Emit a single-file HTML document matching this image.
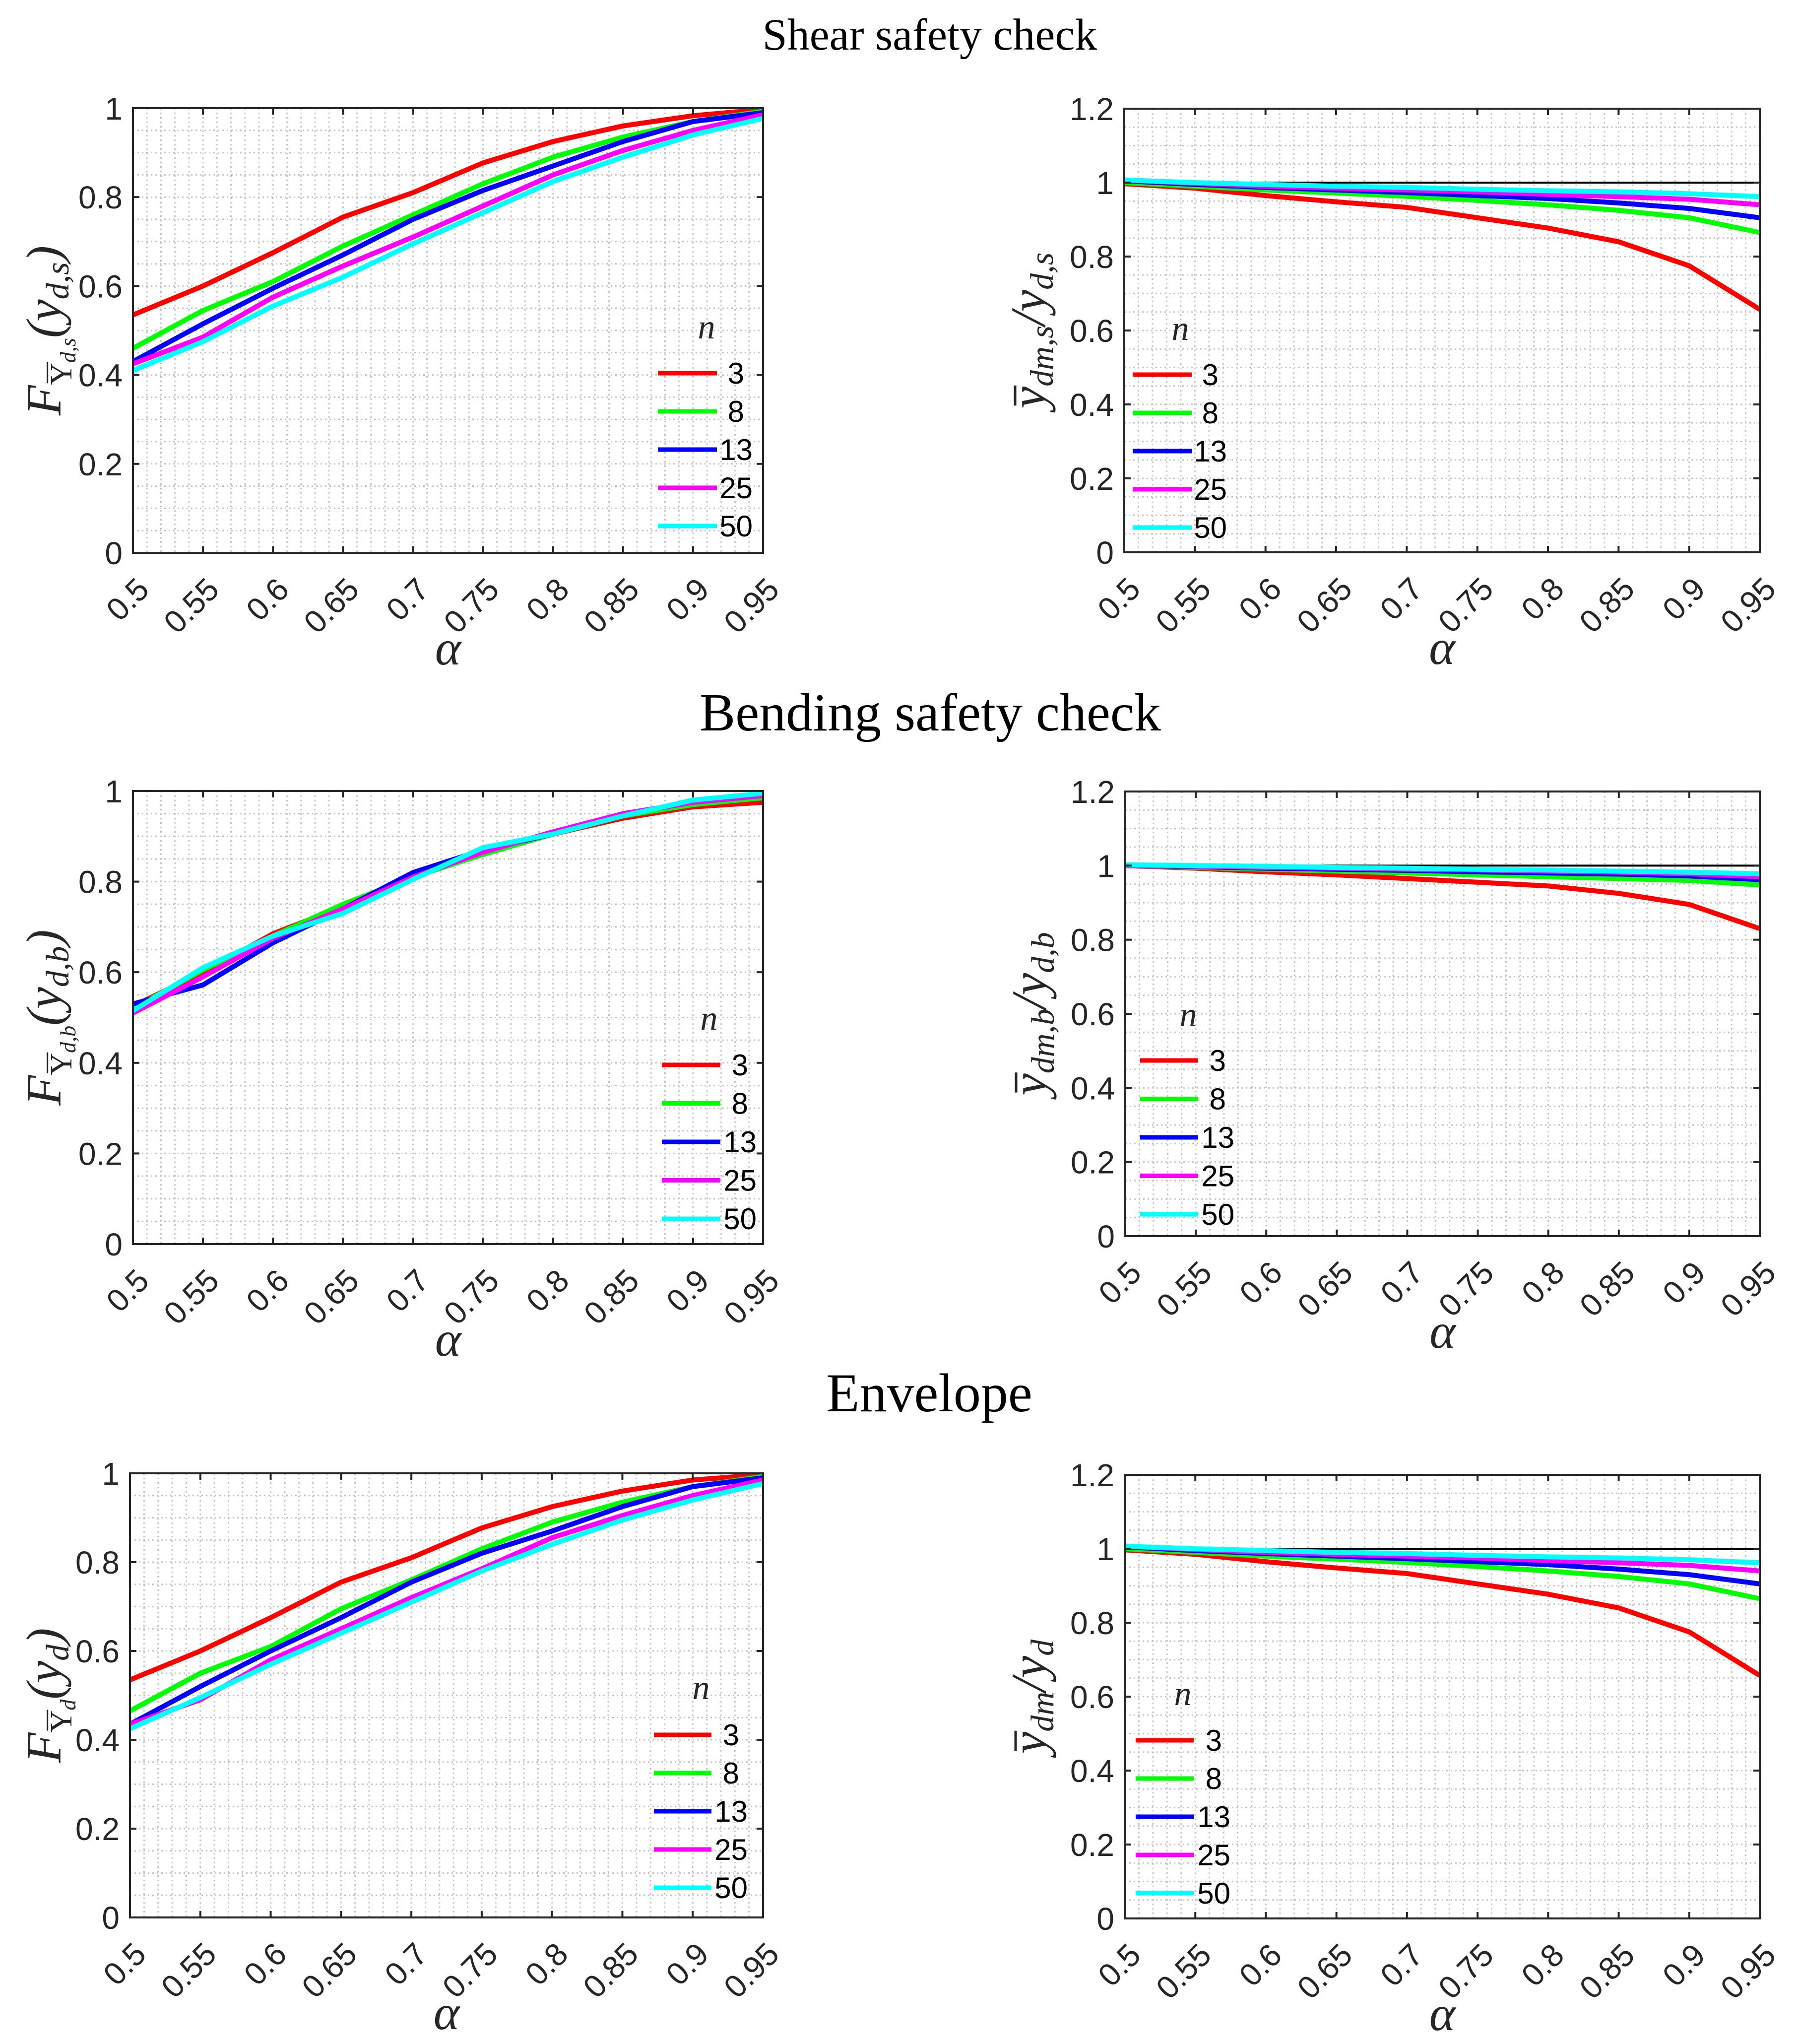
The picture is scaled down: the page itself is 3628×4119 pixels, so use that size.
<!DOCTYPE html>
<html><head><meta charset="utf-8"><style>
html,body{margin:0;padding:0;background:#fff;}
svg{display:block;}
.tk{font-family:"Liberation Sans",Arial,sans-serif;font-size:64px;fill:#262626;}
.lg{font-family:"Liberation Sans",Arial,sans-serif;font-size:60px;fill:#000;}
.mt{font-family:"Liberation Serif","DejaVu Serif",serif;font-style:italic;fill:#262626;}
.ttl{font-family:"Liberation Serif","DejaVu Serif",serif;fill:#000;}
</style></head><body>
<svg id="fig" xmlns="http://www.w3.org/2000/svg" width="3628" height="4119" viewBox="0 0 3628 4119">
<rect width="3628" height="4119" fill="#fff"/>
<text class="ttl" x="1874" y="100" font-size="90" text-anchor="middle">Shear safety check</text>
<text class="ttl" x="1875" y="1472" font-size="108" text-anchor="middle">Bending safety check</text>
<text class="ttl" x="1873" y="2844" font-size="110" text-anchor="middle">Envelope</text>
</svg>
<script>
const alphas=[0.5,0.55,0.6,0.65,0.7,0.75,0.8,0.85,0.9,0.95];
const xTickLabels=["0.5","0.55","0.6","0.65","0.7","0.75","0.8","0.85","0.9","0.95"];
const nLabels=["3","8","13","25","50"];
const colors=["#ff0000","#00ff00","#0000ff","#ff00ff","#00ffff"];
const yTicksLeft=["0","0.2","0.4","0.6","0.8","1"];
const yTicksRight=["0","0.2","0.4","0.6","0.8","1","1.2"];

const shearF3=[0.535,0.60,0.675,0.755,0.81,0.877,0.925,0.96,0.983,0.997];
const shearF8=[0.46,0.545,0.61,0.69,0.76,0.83,0.89,0.935,0.97,0.993];
const shearF13=[0.43,0.515,0.595,0.67,0.75,0.815,0.87,0.925,0.97,0.99];
const shearF25=[0.425,0.485,0.575,0.645,0.71,0.78,0.85,0.905,0.95,0.985];
const shearF50=[0.41,0.475,0.555,0.62,0.695,0.765,0.835,0.89,0.94,0.977];

const shearR3=[0.997,0.985,0.965,0.948,0.933,0.905,0.877,0.84,0.775,0.657];
const shearR8=[1.0,0.99,0.98,0.972,0.963,0.952,0.94,0.925,0.905,0.865];
const shearR13=[1.005,0.995,0.987,0.98,0.973,0.965,0.957,0.945,0.93,0.905];
const shearR25=[1.007,0.998,0.99,0.985,0.98,0.975,0.968,0.962,0.955,0.94];
const shearR50=[1.007,1.0,0.995,0.99,0.987,0.982,0.978,0.975,0.97,0.962];

const bendF3=[0.525,0.60,0.685,0.745,0.81,0.86,0.905,0.94,0.965,0.975];
const bendF8=[0.52,0.605,0.68,0.75,0.81,0.86,0.905,0.945,0.97,0.985];
const bendF13=[0.53,0.572,0.665,0.74,0.82,0.87,0.905,0.95,0.975,0.99];
const bendF25=[0.51,0.59,0.675,0.74,0.81,0.865,0.91,0.95,0.975,0.99];
const bendF50=[0.515,0.61,0.68,0.73,0.805,0.875,0.905,0.945,0.98,0.995];

const bendR3=[1.0,0.993,0.983,0.975,0.965,0.955,0.945,0.925,0.895,0.83];
const bendR8=[1.0,0.995,0.99,0.985,0.98,0.975,0.97,0.965,0.96,0.948];
const bendR13=[1.0,0.997,0.993,0.99,0.987,0.983,0.98,0.977,0.972,0.962];
const bendR25=[1.0,0.998,0.995,0.993,0.99,0.988,0.985,0.982,0.978,0.97];
const bendR50=[1.002,1.0,0.998,0.995,0.993,0.99,0.988,0.985,0.982,0.978];

const envF3=[0.535,0.60,0.675,0.755,0.81,0.877,0.925,0.96,0.985,0.997];
const envF8=[0.465,0.55,0.61,0.695,0.76,0.83,0.89,0.935,0.97,0.993];
const envF13=[0.435,0.52,0.60,0.675,0.755,0.82,0.87,0.925,0.97,0.99];
const envF25=[0.435,0.49,0.58,0.65,0.72,0.785,0.855,0.905,0.95,0.985];
const envF50=[0.425,0.495,0.57,0.64,0.71,0.78,0.84,0.895,0.94,0.977];

const envR3=[0.997,0.985,0.965,0.948,0.933,0.905,0.877,0.84,0.775,0.657];
const envR8=[1.0,0.99,0.98,0.972,0.963,0.952,0.94,0.925,0.905,0.865];
const envR13=[1.005,0.995,0.987,0.98,0.973,0.965,0.957,0.945,0.93,0.905];
const envR25=[1.007,0.998,0.99,0.985,0.98,0.975,0.968,0.962,0.955,0.94];
const envR50=[1.007,1.0,0.995,0.99,0.987,0.982,0.978,0.975,0.97,0.962];

const NS="http://www.w3.org/2000/svg";
const fig=document.getElementById('fig');
function mk(tag,attrs,parent){const e=document.createElementNS(NS,tag);for(const k in attrs)e.setAttribute(k,attrs[k]);(parent||fig).appendChild(e);return e;}

const panels=[
 {id:'shear-cdf',L:268,R:1538,T:218,B:1114,ymax:1,ref:false,series:[shearF3,shearF8,shearF13,shearF25,shearF50],leg:{x1:1326,x2:1445,y:752,dy:77,lx:1517,nx:1424,ny:682},yl:'left',sub:'d,s'},
 {id:'shear-ratio',L:2266,R:3547,T:219,B:1113,ymax:1.2,ref:true,series:[shearR3,shearR8,shearR13,shearR25,shearR50],leg:{x1:2283,x2:2402,y:755,dy:77,lx:2473,nx:2379,ny:685},yl:'right',sub:'d,s',sub2:'dm,s'},
 {id:'bending-cdf',L:268,R:1538,T:1594,B:2507,ymax:1,ref:false,series:[bendF3,bendF8,bendF13,bendF25,bendF50],leg:{x1:1334,x2:1452,y:2146,dy:77.5,lx:1525,nx:1429,ny:2075},yl:'left',sub:'d,b'},
 {id:'bending-ratio',L:2268,R:3547,T:1595,B:2491,ymax:1.2,ref:true,series:[bendR3,bendR8,bendR13,bendR25,bendR50],leg:{x1:2298,x2:2415,y:2137,dy:77.5,lx:2488,nx:2395,ny:2068},yl:'right',sub:'d,b',sub2:'dm,b'},
 {id:'envelope-cdf',L:262,R:1538,T:2969,B:3864,ymax:1,ref:false,series:[envF3,envF8,envF13,envF25,envF50],leg:{x1:1318,x2:1434,y:3496,dy:77,lx:1507,nx:1413,ny:3424},yl:'left',sub:'d'},
 {id:'envelope-ratio',L:2267,R:3547,T:2972,B:3866,ymax:1.2,ref:true,series:[envR3,envR8,envR13,envR25,envR50],leg:{x1:2289,x2:2406,y:3507,dy:77,lx:2480,nx:2384,ny:3436},yl:'right',sub:'d',sub2:'dm'}
];

panels.forEach(p=>{
 const g=mk('g',{});
 
 
 const xs=v=>p.L+(v-0.5)/(0.95-0.5)*(p.R-p.L);
 const ys=v=>p.B-v/p.ymax*(p.B-p.T);
 for(let i=0;i<=45;i++){const v=0.5+i*0.01;const x=xs(v);
  const l=mk('line',{x1:x,x2:x,y1:p.T,y2:p.B,stroke:'#c4c4c4','stroke-width':3,'stroke-dasharray':'3 6'},g);
  }
 const ny=Math.round(p.ymax/0.05);
 for(let i=0;i<=ny;i++){const y=ys(i*0.05);
  const l=mk('line',{x1:p.L,x2:p.R,y1:y,y2:y,stroke:'#c4c4c4','stroke-width':3,'stroke-dasharray':'3 6'},g);
  }
 if(p.ref){const l=mk('line',{x1:p.L,x2:p.R,y1:ys(1),y2:ys(1),stroke:'#000','stroke-width':4},g);
  }
 p.series.forEach((s,k)=>{
  const pts=s.map((v,i)=>xs(alphas[i]).toFixed(1)+','+ys(v).toFixed(1)).join(' ');
  const pl=mk('polyline',{points:pts,fill:'none',stroke:colors[k],'stroke-width':10,'stroke-linejoin':'round'},g);
  
  
 });
 const bx=mk('rect',{x:p.L,y:p.T,width:p.R-p.L,height:p.B-p.T,fill:'none',stroke:'#262626','stroke-width':4},g);
 
 alphas.forEach((v,i)=>{const x=xs(v);
  mk('line',{x1:x,x2:x,y1:p.B,y2:p.B-13,stroke:'#262626','stroke-width':4},g);
  mk('line',{x1:x,x2:x,y1:p.T,y2:p.T+13,stroke:'#262626','stroke-width':4},g);
  const t=mk('text',{class:'tk',x:0,y:0,'text-anchor':'end',transform:`translate(${x+36},${p.B+78}) rotate(-45)`},g);
  t.textContent=xTickLabels[i];
  
 });
 const yl=p.ymax>1?yTicksRight:yTicksLeft;
 yl.forEach(lbl=>{const y=ys(parseFloat(lbl));
  mk('line',{x1:p.L,x2:p.L+13,y1:y,y2:y,stroke:'#262626','stroke-width':4},g);
  mk('line',{x1:p.R,x2:p.R-13,y1:y,y2:y,stroke:'#262626','stroke-width':4},g);
  const t=mk('text',{class:'tk',x:p.L-21,y:y+23,'text-anchor':'end'},g);
  t.textContent=lbl;
  
 });
 const xl=mk('text',{class:'mt',x:(p.L+p.R)/2,y:p.B+225,'font-size':100,'text-anchor':'middle'},g);
 xl.textContent='α';
 
 const cy=(p.T+p.B)/2;
 let yt,tg,ovIdx,ovFs;
 if(p.yl==='left'){
  tg=mk('g',{transform:`translate(122,${cy}) rotate(-90)`},g);
  yt=mk('text',{class:'mt','font-size':100,'text-anchor':'middle'},tg);
  yt.innerHTML=`F<tspan font-size="62" font-style="normal" dy="22">Y</tspan><tspan font-size="44" dy="8">${p.sub}</tspan><tspan dy="-30">(y</tspan><tspan font-size="66" dy="16">${p.sub}</tspan><tspan dy="-16">)</tspan>`;
  ovIdx=1;ovFs=62;
 } else {
  tg=mk('g',{transform:`translate(${p.L-160},${cy}) rotate(-90)`},g);
  yt=mk('text',{class:'mt','font-size':100,'text-anchor':'middle'},tg);
  yt.innerHTML=`y<tspan font-size="66" dy="16">${p.sub2}</tspan><tspan dy="-16">/y</tspan><tspan font-size="66" dy="16">${p.sub}</tspan>`;
  ovIdx=0;ovFs=100;
 }
 
 try{
  const ex=yt.getExtentOfChar(ovIdx);
  const sp=yt.getStartPositionOfChar(ovIdx);
  const oy=sp.y-ovFs*(ovIdx===1?0.78:0.6);
  const ol=mk('line',{x1:ex.x+ovFs*0.06,x2:ex.x+ex.width+ovFs*0.02,y1:oy,y2:oy,stroke:'#262626','stroke-width':ovFs*0.05},tg);
  
 }catch(e){}
 const lg=mk('g',{},g);
 
 const nt=mk('text',{class:'mt','font-size':70,x:p.leg.nx,y:p.leg.ny,'text-anchor':'middle',fill:'#000'},lg);
 nt.textContent='n';
 
 nLabels.forEach((lbl,k)=>{const y=p.leg.y+k*p.leg.dy;
  const ln=mk('line',{x1:p.leg.x1,x2:p.leg.x2,y1:y,y2:y,stroke:colors[k],'stroke-width':9},lg);
  
  const t=mk('text',{class:'lg',x:p.leg.lx-(lbl.length===1?17:0),y:y+21,'text-anchor':'end'},lg);
  t.textContent=lbl;
  
 });
});
</script>
</body></html>
